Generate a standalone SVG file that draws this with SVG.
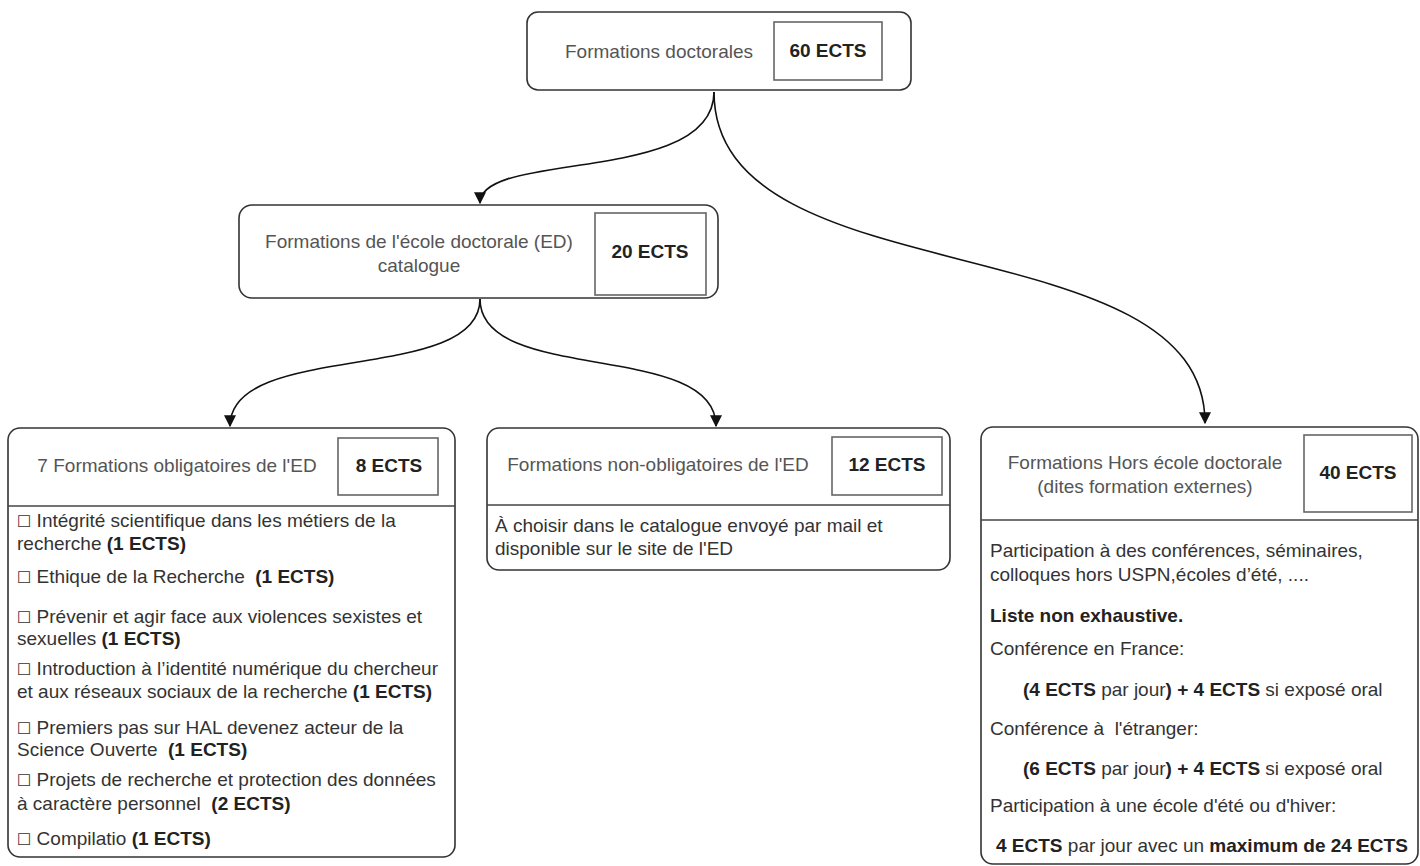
<svg xmlns="http://www.w3.org/2000/svg" width="1420" height="866" viewBox="0 0 1420 866">
<defs>
<marker id="arr" viewBox="0 0 10 10" refX="9" refY="5" markerWidth="12" markerHeight="12" markerUnits="userSpaceOnUse" orient="auto">
<path d="M0,0 L10,5 L0,10 z" fill="#111"/>
</marker>
<style>
.box{fill:#fff;stroke:#333;stroke-width:1.6}
.ib{fill:#fff;stroke:#666;stroke-width:1.6}
.sep{stroke:#444;stroke-width:1.4}
.hd{font-family:"Liberation Sans",Arial,sans-serif;font-size:19px;fill:#555}
.ec{font-family:"Liberation Sans",Arial,sans-serif;font-size:19px;font-weight:bold;fill:#222}
.tx{font-family:"Liberation Sans",Arial,sans-serif;font-size:19px;fill:#333}
.b{font-weight:bold;fill:#222}
.cb{font-family:"DejaVu Sans",sans-serif;font-size:16px}
.con{fill:none;stroke:#111;stroke-width:1.6}
</style>
</defs>
<rect width="1420" height="866" fill="#fff"/>
<g id="connectors">
<path class="con" d="M714,92 C714,185 480,150 480,203" marker-end="url(#arr)"/>
<path class="con" d="M714,92 C714,300 1205,220 1205,423" marker-end="url(#arr)"/>
<path class="con" d="M480,299 C480,385 230,340 230,426" marker-end="url(#arr)"/>
<path class="con" d="M480,299 C480,385 716,340 716,426" marker-end="url(#arr)"/>
</g>
<g id="node-doctorales">
<rect class="box" x="527" y="12" width="384" height="78" rx="11"/>
<rect class="ib" x="774" y="22" width="108" height="58"/>
<text class="hd" x="659" y="58" text-anchor="middle" font-size="20.5">Formations doctorales</text>
<text class="ec" x="828" y="57" text-anchor="middle">60 ECTS</text>
</g>
<g id="node-ed">
<rect class="box" x="239" y="205" width="479" height="93" rx="13"/>
<rect class="ib" x="595" y="213" width="111" height="82"/>
<text class="hd" x="419" y="248" text-anchor="middle">Formations de l'école doctorale (ED)</text>
<text class="hd" x="419" y="272" text-anchor="middle">catalogue</text>
<text class="ec" x="650" y="258" text-anchor="middle">20 ECTS</text>
</g>
<g id="node-obligatoires">
<rect class="box" x="8" y="428" width="447" height="429" rx="12"/>
<line class="sep" x1="8" y1="506" x2="455" y2="506"/>
<rect class="ib" x="338" y="438" width="100" height="57"/>
<text class="hd" x="177" y="472" text-anchor="middle">7 Formations obligatoires de l'ED</text>
<text class="ec" x="389" y="472" text-anchor="middle">8 ECTS</text>
<text class="tx" x="17" y="527"><tspan class="cb">☐</tspan> Intégrité scientifique dans les métiers de la</text>
<text class="tx" x="17" y="550">recherche <tspan class="b">(1 ECTS)</tspan></text>
<text class="tx" x="17" y="583" xml:space="preserve"><tspan class="cb">☐</tspan> Ethique de la Recherche  <tspan class="b">(1 ECTS)</tspan></text>
<text class="tx" x="17" y="623"><tspan class="cb">☐</tspan> Prévenir et agir face aux violences sexistes et</text>
<text class="tx" x="17" y="645">sexuelles <tspan class="b">(1 ECTS)</tspan></text>
<text class="tx" x="17" y="675"><tspan class="cb">☐</tspan> Introduction à l’identité numérique du chercheur</text>
<text class="tx" x="17" y="698">et aux réseaux sociaux de la recherche <tspan class="b">(1 ECTS)</tspan></text>
<text class="tx" x="17" y="734"><tspan class="cb">☐</tspan> Premiers pas sur HAL devenez acteur de la</text>
<text class="tx" x="17" y="756" xml:space="preserve">Science Ouverte  <tspan class="b">(1 ECTS)</tspan></text>
<text class="tx" x="17" y="786"><tspan class="cb">☐</tspan> Projets de recherche et protection des données</text>
<text class="tx" x="17" y="810" xml:space="preserve">à caractère personnel  <tspan class="b">(2 ECTS)</tspan></text>
<text class="tx" x="17" y="845"><tspan class="cb">☐</tspan> Compilatio <tspan class="b">(1 ECTS)</tspan></text>
</g>
<g id="node-non-obligatoires">
<rect class="box" x="487" y="428" width="463" height="142" rx="12"/>
<line class="sep" x1="487" y1="505" x2="950" y2="505"/>
<rect class="ib" x="832" y="437" width="110" height="58"/>
<text class="hd" x="658" y="471" text-anchor="middle">Formations non-obligatoires de l'ED</text>
<text class="ec" x="887" y="471" text-anchor="middle">12 ECTS</text>
<text class="tx" x="495" y="532">À choisir dans le catalogue envoyé par mail et</text>
<text class="tx" x="495" y="555">disponible sur le site de l'ED</text>
</g>
<g id="node-hors-ed">
<rect class="box" x="981" y="427" width="437" height="437" rx="12"/>
<line class="sep" x1="981" y1="520" x2="1418" y2="520"/>
<rect class="ib" x="1304" y="435" width="108" height="77"/>
<text class="hd" x="1145" y="469" text-anchor="middle">Formations Hors école doctorale</text>
<text class="hd" x="1145" y="493" text-anchor="middle">(dites formation externes)</text>
<text class="ec" x="1358" y="479" text-anchor="middle">40 ECTS</text>
<text class="tx" x="990" y="557" font-size="17.7">Participation à des conférences, séminaires,</text>
<text class="tx" x="990" y="581" font-size="17.7">colloques hors USPN,écoles d’été, ....</text>
<text class="tx b" x="990" y="622">Liste non exhaustive.</text>
<text class="tx" x="990" y="655">Conférence en France:</text>
<text class="tx" x="1023" y="696"><tspan class="b">(4 ECTS</tspan> par jour<tspan class="b">) + 4 ECTS</tspan> si exposé oral</text>
<text class="tx" x="990" y="735" xml:space="preserve">Conférence à  l'étranger:</text>
<text class="tx" x="1023" y="775"><tspan class="b">(6 ECTS</tspan> par jour<tspan class="b">) + 4 ECTS</tspan> si exposé oral</text>
<text class="tx" x="990" y="812">Participation à une école d'été ou d'hiver:</text>
<text class="tx" x="996" y="852"><tspan class="b">4 ECTS</tspan> par jour avec un <tspan class="b">maximum de 24 ECTS</tspan></text>
</g>
</svg>
